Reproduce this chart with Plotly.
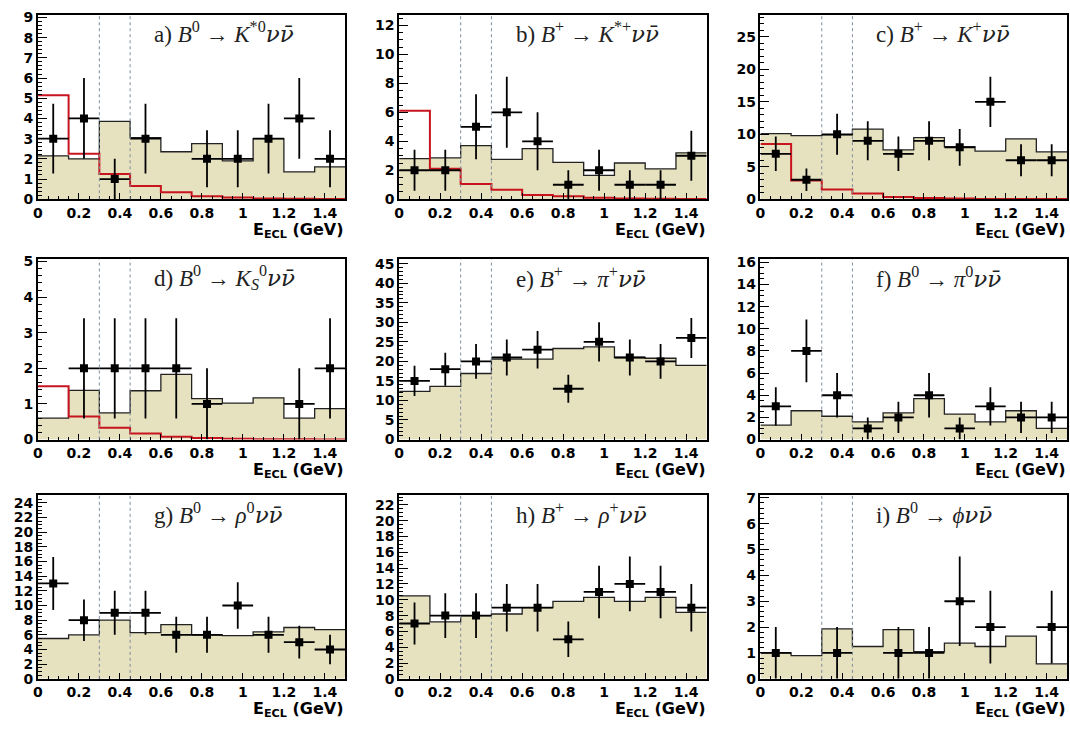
import plotly.graph_objects as go

# ---------------- data ----------------
bin_edges = [0.0, 0.15, 0.3, 0.45, 0.6, 0.75, 0.9, 1.05, 1.2, 1.35, 1.5]
bin_centers = [0.075, 0.225, 0.375, 0.525, 0.675, 0.825, 0.975, 1.125, 1.275, 1.425]
bin_half_width = 0.075
cut_lines = [0.3, 0.45]

NUBAR = '<span style="font-family:DejaVu Serif"><i>\u03bd\u03bd\u0304</i></span>'
labels = [
    "a) <i>B</i><sup>0</sup> \u2192 <i>K</i><sup>*0</sup>" + NUBAR,
    "b) <i>B</i><sup>+</sup> \u2192 <i>K</i><sup>*+</sup>" + NUBAR,
    "c) <i>B</i><sup>+</sup> \u2192 <i>K</i><sup>+</sup>" + NUBAR,
    "d) <i>B</i><sup>0</sup> \u2192 <i>K</i><sub><i>S</i></sub><sup>0</sup>" + NUBAR,
    "e) <i>B</i><sup>+</sup> \u2192 <i>\u03c0</i><sup>+</sup>" + NUBAR,
    "f) <i>B</i><sup>0</sup> \u2192 <i>\u03c0</i><sup>0</sup>" + NUBAR,
    "g) <i>B</i><sup>0</sup> \u2192 <i>\u03c1</i><sup>0</sup>" + NUBAR,
    "h) <i>B</i><sup>+</sup> \u2192 <i>\u03c1</i><sup>+</sup>" + NUBAR,
    "i) <i>B</i><sup>0</sup> \u2192 <i>\u03d5</i>" + NUBAR,
]

# background expectation (filled histogram)
bkg_a = [2.15, 2.0, 3.85, 3.05, 2.35, 2.75, 1.9, 3.0, 1.35, 1.6]
bkg_b = [2.8, 2.85, 3.7, 2.75, 3.5, 2.55, 1.65, 2.5, 2.1, 3.2]
bkg_c = [10.1, 9.8, 9.9, 10.8, 7.6, 9.5, 8.1, 7.4, 9.3, 7.3]
bkg_d = [0.6, 1.38, 0.75, 1.37, 1.83, 1.15, 1.02, 1.17, 0.6, 0.87]
bkg_e = [12.3, 13.6, 16.9, 20.6, 20.6, 23.3, 23.7, 21.0, 20.8, 19.0]
bkg_f = [1.3, 2.6, 2.1, 1.6, 2.4, 3.7, 2.3, 1.6, 2.6, 1.0]
bkg_g = [5.5, 6.0, 8.0, 6.3, 7.4, 6.0, 5.9, 6.4, 7.0, 6.7]
bkg_h = [10.5, 7.2, 8.0, 8.2, 9.0, 9.8, 10.3, 9.8, 10.3, 8.4]
bkg_i = [1.0, 0.9, 1.93, 1.25, 1.9, 1.05, 1.38, 1.25, 1.65, 0.58]

# signal shapes (red line), only for a-d
sig_a = [5.15, 2.25, 1.25, 0.65, 0.35, 0.15, 0.08, 0.04, 0.02, 0.01]
sig_b = [6.1, 2.1, 1.05, 0.65, 0.3, 0.2, 0.1, 0.05, 0.03, 0.02]
sig_c = [8.5, 2.9, 1.5, 0.9, 0.35, 0.2, 0.1, 0.05, 0.03, 0.02]
sig_d = [1.5, 0.65, 0.33, 0.17, 0.08, 0.04, 0.02, 0.01, 0.01, 0.0]

# observed data counts and their errors
data_a = [3, 4, 1, 3, 0, 2, 2, 3, 4, 2]
err_a = [1.73, 2, 1, 1.73, 0, 1.41, 1.41, 1.73, 2, 1.41]
data_b = [2, 2, 5, 6, 4, 1, 2, 1, 1, 3]
err_b = [1.41, 1.41, 2.24, 2.45, 2, 1, 1.41, 1, 1, 1.73]
data_c = [7, 3, 10, 9, 7, 9, 8, 15, 6, 6]
err_c = [2.65, 1.73, 3.16, 3, 2.65, 3, 2.83, 3.87, 2.45, 2.45]
data_d = [0, 2, 2, 2, 2, 1, 0, 0, 1, 2]
err_d = [0, 1.41, 1.41, 1.41, 1.41, 1, 0, 0, 1, 1.41]
data_e = [15, 18, 20, 21, 23, 13, 25, 21, 20, 26]
err_e = [3.87, 4.24, 4.47, 4.58, 4.80, 3.61, 5, 4.58, 4.47, 5.10]
data_f = [3, 8, 4, 1, 2, 4, 1, 3, 2, 2]
err_f = [1.73, 2.83, 2, 1, 1.41, 2, 1, 1.73, 1.41, 1.41]
data_g = [13, 8, 9, 9, 6, 6, 10, 6, 5, 4]
err_g = [3.61, 2.83, 3, 3, 2.45, 2.45, 3.16, 2.45, 2.24, 2]
data_h = [7, 8, 8, 9, 9, 5, 11, 12, 11, 9]
err_h = [2.65, 2.83, 2.83, 3, 3, 2.24, 3.32, 3.46, 3.32, 3]
data_i = [1, 0, 1, 0, 1, 1, 3, 2, 0, 2]
err_i = [1, 0, 1, 0, 1, 1, 1.73, 1.41, 0, 1.41]

y_max = [9.13, 12.73, 28.4, 5.07, 46.2, 16.3, 25.0, 23.2, 7.09]
y_dtick = [1, 2, 5, 1, 5, 2, 2, 2, 1]
y_minor = [0.2, 0.5, 1, 0.2, 1, 0.5, 0.5, 0.5, 0.2]

bkgs = [bkg_a, bkg_b, bkg_c, bkg_d, bkg_e, bkg_f, bkg_g, bkg_h, bkg_i]
sigs = [sig_a, sig_b, sig_c, sig_d, None, None, None, None, None]
datas = [data_a, data_b, data_c, data_d, data_e, data_f, data_g, data_h, data_i]
errs = [err_a, err_b, err_c, err_d, err_e, err_f, err_g, err_h, err_i]

# ---------------- styling / layout ----------------
W, H = 1070, 730
col_px = [(33, 342), (396, 705), (759, 1067)]
row_px = [(9, 197), (258, 442), (499, 686)]

FILL = "#E6E1BE"
OUTLINE = "#222222"
RED = "#C8141E"
DOT = "#7F8E9E"
TICKFONT = dict(family="DejaVu Sans", size=14, color="black", weight="bold")

fig = go.Figure()
layout = dict(
    width=W, height=H, margin=dict(l=0, r=0, t=0, b=0),
    paper_bgcolor="white", plot_bgcolor="white", showlegend=False,
)
shapes = []
annotations = []

for k in range(9):
    r, c = divmod(k, 3)
    ax = "" if k == 0 else str(k + 1)
    xref, yref = "x" + ax, "y" + ax
    x0, x1 = col_px[c]
    t0, b0 = row_px[r]

    # background histogram
    yb = list(bkgs[k]) + [bkgs[k][-1]]
    fig.add_trace(go.Scatter(
        x=bin_edges, y=yb, mode="lines", line=dict(shape="hv", color=OUTLINE, width=1.3),
        fill="tozeroy", fillcolor=FILL, xaxis=xref, yaxis=yref, hoverinfo="skip"))
    # signal
    if sigs[k] is not None:
        ys = list(sigs[k]) + [sigs[k][-1]]
        fig.add_trace(go.Scatter(
            x=bin_edges, y=ys, mode="lines", line=dict(shape="hv", color=RED, width=2),
            xaxis=xref, yaxis=yref, hoverinfo="skip"))
    # data points
    xs = [bin_centers[i] for i in range(10) if datas[k][i] > 0]
    ys = [datas[k][i] for i in range(10) if datas[k][i] > 0]
    es = [errs[k][i] for i in range(10) if datas[k][i] > 0]
    fig.add_trace(go.Scatter(
        x=xs, y=ys, mode="markers",
        marker=dict(symbol="square", size=8, color="black"),
        error_y=dict(type="data", array=es, visible=True, color="black", thickness=1.8, width=0),
        error_x=dict(type="constant", value=bin_half_width, visible=True, color="black", thickness=1.8, width=0),
        xaxis=xref, yaxis=yref))

    layout["xaxis" + ax] = dict(
        domain=[x0 / W, x1 / W], anchor=yref, range=[0, 1.5],
        tickmode="linear", tick0=0, dtick=0.2, ticks="inside", ticklen=6, tickwidth=1,
        tickcolor="black", showline=True, linecolor="black", linewidth=1.5, mirror=True,
        showgrid=False, zeroline=False, tickfont=TICKFONT, tickformat="~g",
        minor=dict(ticks="inside", ticklen=3, dtick=0.05, tickcolor="black", showgrid=False),
    )
    layout["yaxis" + ax] = dict(
        domain=[1 - b0 / H, 1 - t0 / H], anchor=xref, range=[0, y_max[k]],
        tickmode="linear", tick0=0, dtick=y_dtick[k], ticks="inside", ticklen=9, tickwidth=1,
        tickcolor="black", showline=True, linecolor="black", linewidth=1.5, mirror=True,
        showgrid=False, zeroline=False, tickfont=TICKFONT,
        minor=dict(ticks="inside", ticklen=4, dtick=y_minor[k], tickcolor="black", showgrid=False),
    )

    for xc in cut_lines:
        shapes.append(dict(type="line", xref=xref, yref=yref + " domain", x0=xc, x1=xc, y0=0, y1=1,
                           line=dict(color=DOT, width=1, dash="dot"), layer="above"))

    annotations.append(dict(
        xref=xref + " domain", yref=yref + " domain", x=1.0, y=0, yshift=-31,
        xanchor="right", yanchor="middle", showarrow=False,
        text="E<sub>ECL</sub> (GeV)",
        font=dict(family="DejaVu Sans", size=16, color="black", weight="bold")))
    annotations.append(dict(
        xref=xref + " domain", yref=yref + " domain", x=0.372, y=1, yshift=-18,
        xanchor="left", yanchor="middle", showarrow=False, text=labels[k],
        font=dict(family="Liberation Serif", size=23, color="#222222")))

layout["shapes"] = shapes
layout["annotations"] = annotations
fig.update_layout(**layout)
fig.write_html("out.html", config={"displayModeBar": False},
               post_script="document.body.style.margin='0px';")
